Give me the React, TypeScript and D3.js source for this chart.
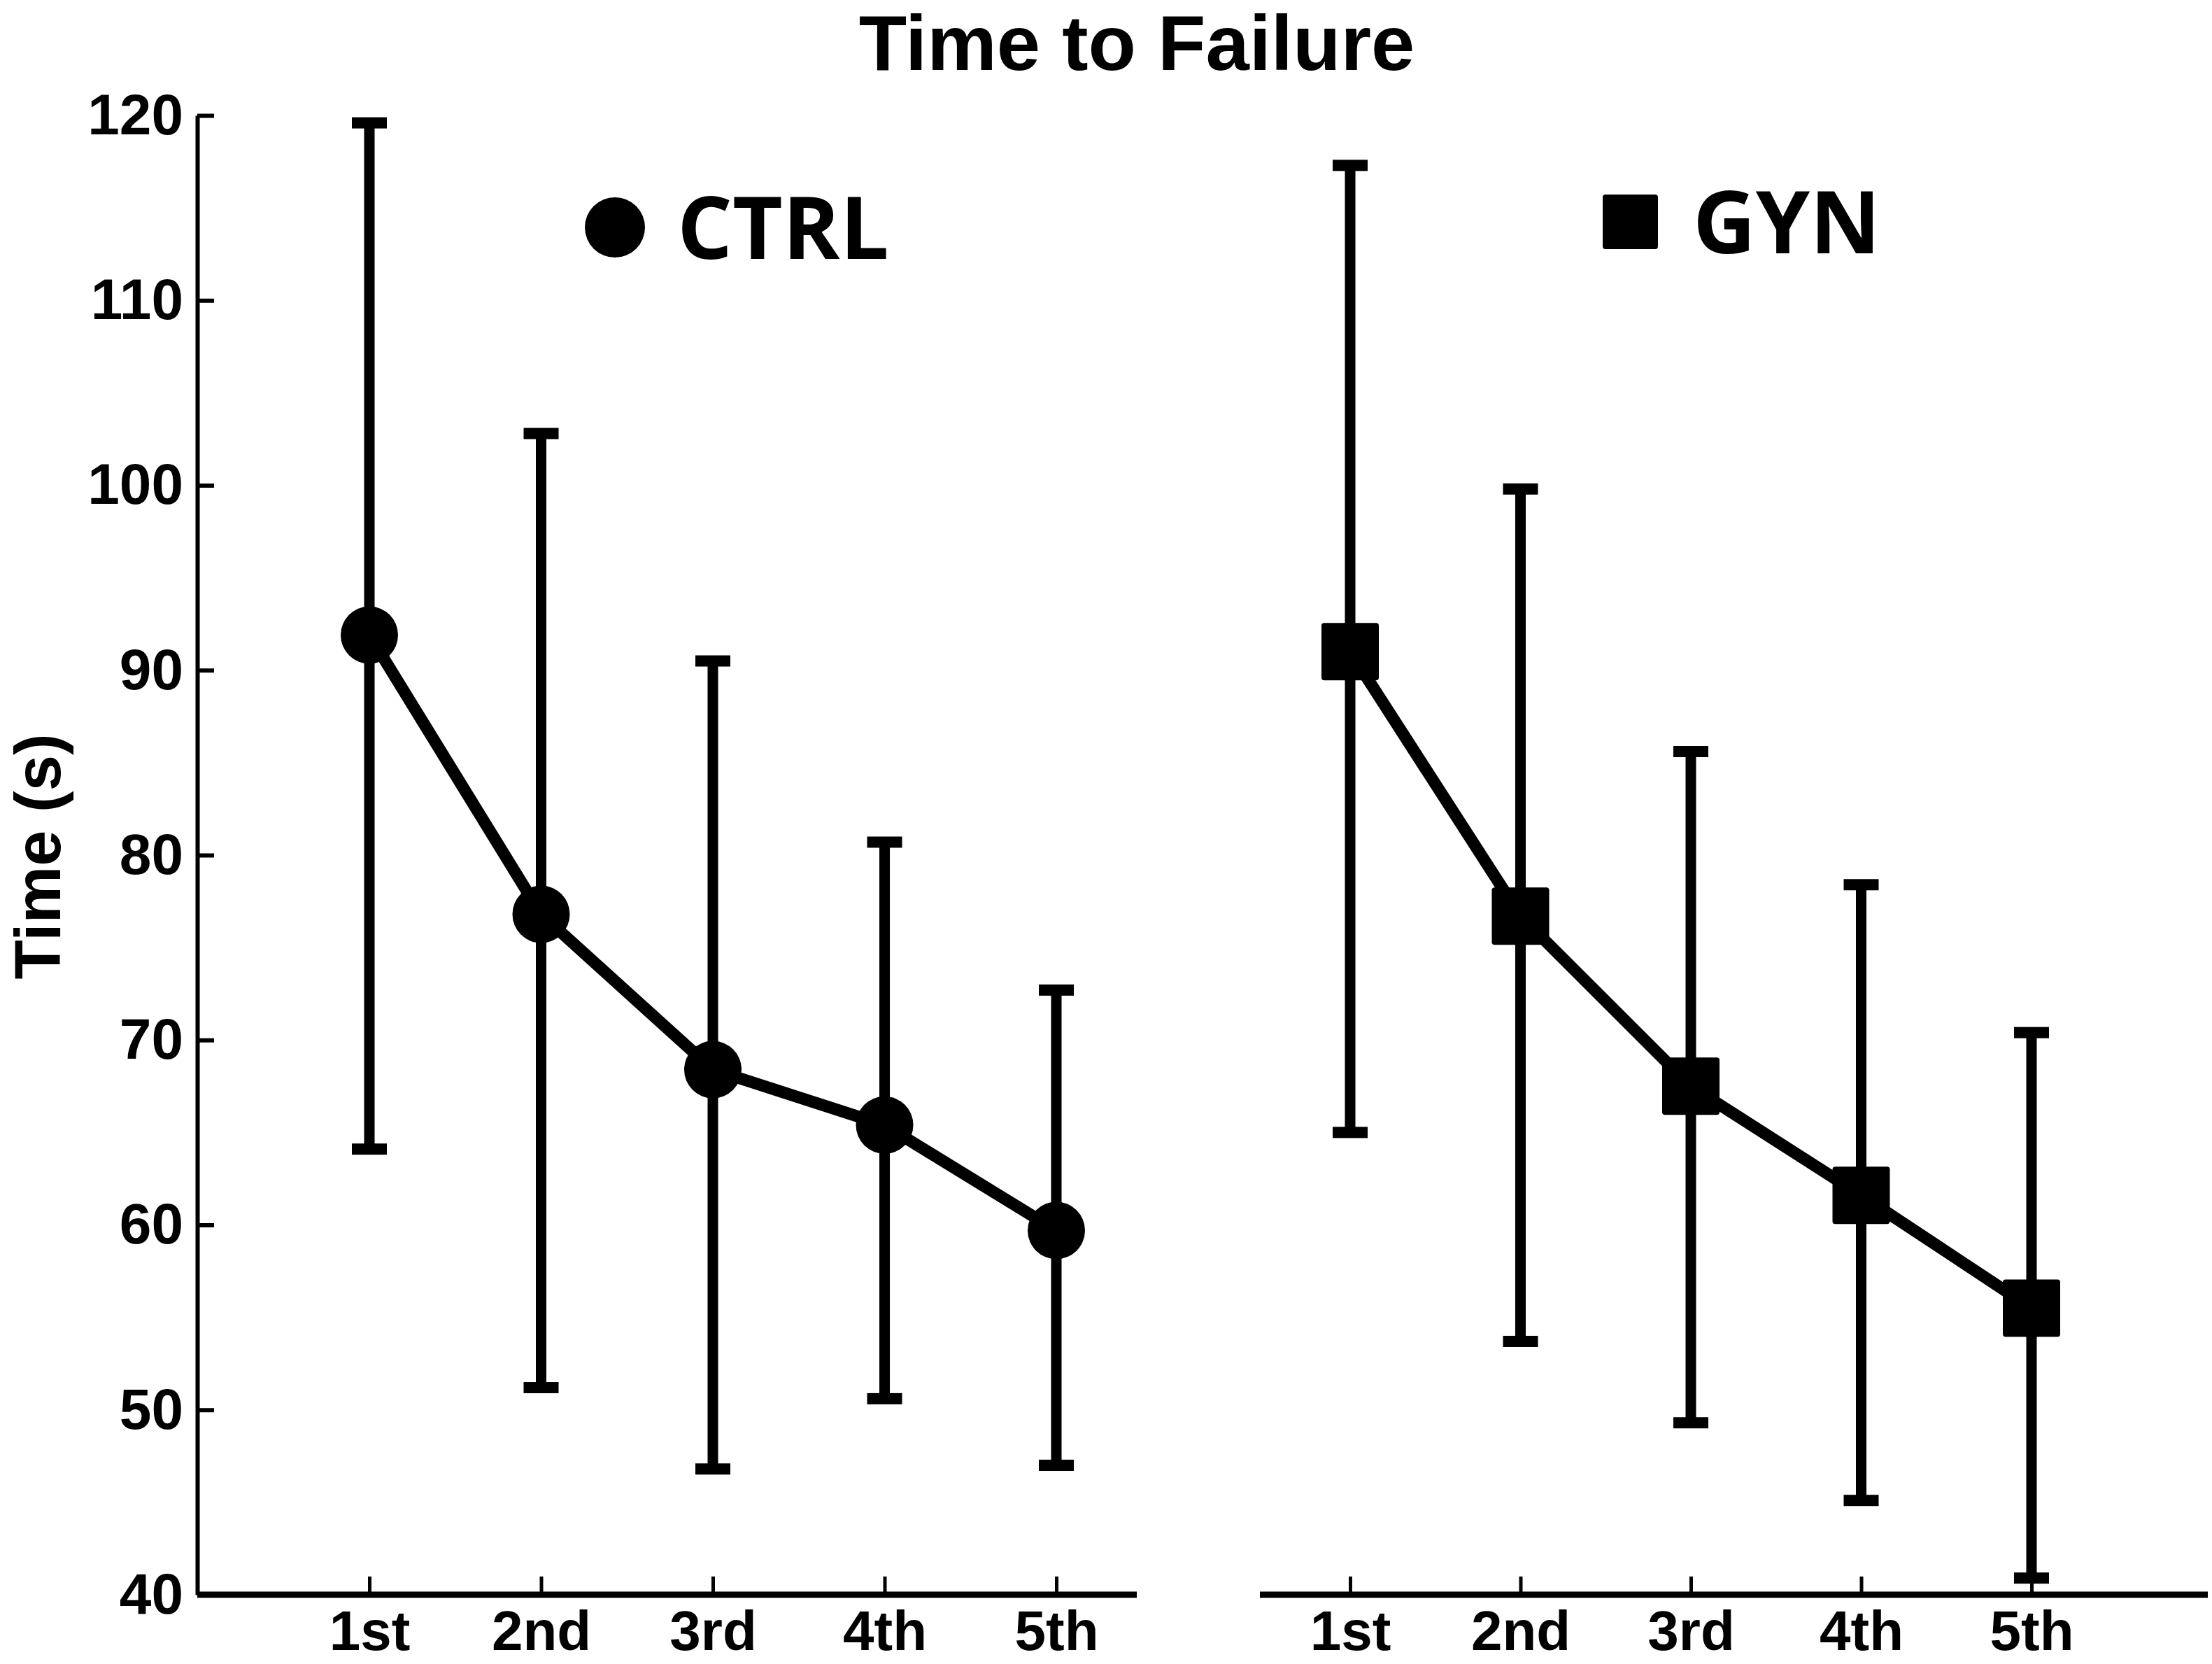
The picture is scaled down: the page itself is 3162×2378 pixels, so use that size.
import React, { useEffect, useRef } from 'react';
import * as d3 from 'd3';

const sessions = ['1st', '2nd', '3rd', '4th', '5th'];
const yTicks = [40, 50, 60, 70, 80, 90, 100, 110, 120];

const ctrlMean = [91.9, 76.8, 68.4, 65.4, 59.7];
const ctrlUpper = [119.6, 102.8, 90.5, 80.7, 72.7];
const ctrlLower = [64.1, 51.2, 46.8, 50.6, 47.0];

const gynMean = [91.0, 76.7, 67.5, 61.6, 55.5];
const gynUpper = [117.3, 99.8, 85.6, 78.4, 70.4];
const gynLower = [65.0, 53.7, 49.3, 45.1, 40.9];

const W = 3162;
const H = 2378;
const FONT = '"Liberation Sans", Arial, sans-serif';

const App: React.FC = () => {
    const ref = useRef<SVGSVGElement>(null);

    useEffect(() => {
        const svg = d3.select(ref.current);
        svg.selectAll('*').remove();

        const y = d3.scaleLinear().domain([40, 120]).range([2279, 165]);
        const xLeft = d3.scalePoint<string>().domain(sessions).range([528, 1510]);
        const xRight = d3.scalePoint<string>().domain(sessions).range([1930, 2904]);

        // title
        svg.append('text')
            .attr('x', 1625).attr('y', 100)
            .attr('text-anchor', 'middle')
            .attr('font-family', FONT).attr('font-weight', 'bold')
            .attr('font-size', 112)
            .text('Time to Failure');

        // y label
        svg.append('text')
            .attr('transform', 'translate(86,1224) rotate(-90)')
            .attr('text-anchor', 'middle')
            .attr('font-family', FONT).attr('font-weight', 'bold')
            .attr('font-size', 92)
            .text('Time (s)');

        // y axis (left panel only)
        const yAxis = svg.append('g')
            .attr('transform', 'translate(282,0)')
            .call(d3.axisLeft(y).tickValues(yTicks).tickSizeInner(-24).tickSizeOuter(0).tickPadding(20));
        yAxis.select('.domain').attr('stroke-width', 6);
        yAxis.selectAll('.tick line').attr('stroke-width', 6);
        yAxis.selectAll('.tick text')
            .attr('font-family', FONT).attr('font-weight', 'bold')
            .attr('font-size', 82).attr('fill', '#000');

        const panels = [
            { x: xLeft, mean: ctrlMean, upper: ctrlUpper, lower: ctrlLower, shape: 'circle', x0: 282, x1: 1625 },
            { x: xRight, mean: gynMean, upper: gynUpper, lower: gynLower, shape: 'square', x0: 1801, x1: 3156 },
        ];

        panels.forEach(p => {
            const xAxis = svg.append('g')
                .attr('transform', `translate(0,${y(40)})`)
                .call(d3.axisBottom(p.x).tickSizeInner(-26).tickSizeOuter(0).tickPadding(22));
            xAxis.select('.domain').remove();
            xAxis.selectAll('.tick line').attr('stroke-width', 5);
            xAxis.selectAll('.tick text')
                .attr('font-family', FONT).attr('font-weight', 'bold')
                .attr('font-size', 80).attr('fill', '#000');
            svg.append('line')
                .attr('x1', p.x0).attr('x2', p.x1)
                .attr('y1', y(40)).attr('y2', y(40))
                .attr('stroke', '#000').attr('stroke-width', 9);

            const g = svg.append('g');
            sessions.forEach((s, i) => {
                const cx = p.x(s) as number;
                g.append('line')
                    .attr('x1', cx).attr('x2', cx)
                    .attr('y1', y(p.upper[i])).attr('y2', y(p.lower[i]))
                    .attr('stroke', '#000').attr('stroke-width', 15);
                [p.upper[i], p.lower[i]].forEach(v => {
                    g.append('rect')
                        .attr('x', cx - 25).attr('y', y(v) - 8)
                        .attr('width', 50).attr('height', 16)
                        .attr('fill', '#000');
                });
            });

            const line = d3.line<number>()
                .x((_, i) => p.x(sessions[i]) as number)
                .y(d => y(d));
            g.append('path')
                .datum(p.mean)
                .attr('d', line)
                .attr('fill', 'none')
                .attr('stroke', '#000').attr('stroke-width', 17);

            p.mean.forEach((v, i) => {
                const cx = p.x(sessions[i]) as number;
                if (p.shape === 'circle') {
                    g.append('circle').attr('cx', cx).attr('cy', y(v)).attr('r', 41).attr('fill', '#000');
                } else {
                    g.append('rect').attr('x', cx - 41).attr('y', y(v) - 41)
                        .attr('width', 82).attr('height', 82).attr('rx', 4).attr('fill', '#000');
                }
            });
        });

        // legends
        svg.append('circle').attr('cx', 879).attr('cy', 325).attr('r', 43).attr('fill', '#000');
        svg.append('text')
            .attr('x', 968).attr('y', 370)
            .attr('font-family', '"Open Sans", "Noto Sans", sans-serif').attr('font-weight', 'bold')
            .attr('font-size', 124)
            .text('CTRL');
        svg.append('rect').attr('x', 2291).attr('y', 278).attr('width', 79).attr('height', 78)
            .attr('rx', 4).attr('fill', '#000');
        svg.append('text')
            .attr('x', 2420).attr('y', 362)
            .attr('font-family', '"Open Sans", "Noto Sans", sans-serif').attr('font-weight', 'bold')
            .attr('font-size', 124)
            .text('GYN');
    }, []);

    return (
        <svg ref={ref} width={W} height={H}
            style={{ position: 'absolute', left: 0, top: 0, background: '#fff' }} />
    );
};

export default App;
